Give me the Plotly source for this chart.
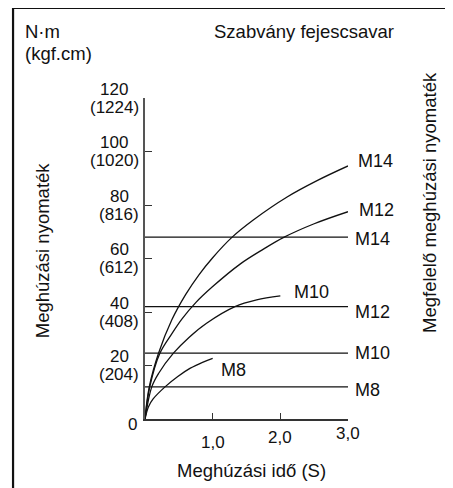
import plotly.graph_objects as go

# ---- data ----
y_ticks = [20, 40, 60, 80, 100, 120]
y_tick_nm = ["20", "40", "60", "80", "100", "120"]
y_tick_kgf = ["(204)", "(408)", "(612)", "(816)", "(1020)", "(1224)"]
x_ticks = [1, 2, 3]
x_tick_labels = ["1,0", "2,0", "3,0"]
x_tick_shift = [-23, -18, -14]

m14_t = [0, 0.064, 0.2, 0.395, 0.6, 0.8, 1.0, 1.284, 1.6, 2.1, 2.55, 3.0]
m14_v = [0, 12.1, 24.6, 37, 46.5, 54, 60.3, 67.9, 74.4, 83, 89.2, 94.6]
m12_t = [0, 0.07, 0.22, 0.4, 0.55, 0.75, 1.0, 1.41, 1.75, 2.05, 2.5, 3.0]
m12_v = [0, 12, 24.6, 32, 37.5, 43.5, 49.5, 58, 63.5, 67.9, 73, 77.5]
m10_t = [0, 0.1, 0.2, 0.42, 0.65, 0.91, 1.33, 1.65, 2.0]
m10_v = [0, 12, 17, 24.6, 30.5, 35.8, 42, 44.5, 46]
m8_t = [0, 0.05, 0.12, 0.3, 0.48, 0.67, 0.85, 1.0]
m8_v = [0, 4.5, 7.5, 12.1, 15.8, 19, 21.2, 22.7]

curve_names = ["M14", "M12", "M10", "M8"]
curve_t = [m14_t, m12_t, m10_t, m8_t]
curve_v = [m14_v, m12_v, m10_v, m8_v]
curve_label_dx = [8, 9, 12, 6]
curve_label_dy = [5, 2, 4, -12]

hline_names = ["M14", "M12", "M10", "M8"]
hline_vals = [68, 42, 24.6, 12]
hline_label_dy = [-2, -5, 0, -3]

FONT = "Liberation Sans, Arial, sans-serif"
FS = 18
TFS = 17

def text_w(s, fs):
    widths = {"(": 0.333, ")": 0.333}
    return sum(widths.get(c, 0.556) for c in s) * fs

fig = go.Figure()
for t, v in zip(curve_t, curve_v):
    fig.add_trace(go.Scatter(x=t, y=v, mode="lines", line=dict(color="#111", width=1.3, shape="spline"),
                             hoverinfo="skip", showlegend=False))
for v in hline_vals:
    fig.add_trace(go.Scatter(x=[0, 3], y=[v, v], mode="lines", line=dict(color="#111", width=1.3),
                             hoverinfo="skip", showlegend=False))

ann = []
for name, t, v, dx, dy in zip(curve_names, curve_t, curve_v, curve_label_dx, curve_label_dy):
    ann.append(dict(x=t[-1], y=v[-1], xref="x", yref="y", text=name, showarrow=False,
                    xanchor="left", yanchor="middle", xshift=dx, yshift=dy))
for name, v, dy in zip(hline_names, hline_vals, hline_label_dy):
    ann.append(dict(x=3, y=v, xref="x", yref="y", text=name, showarrow=False,
                    xanchor="left", yanchor="middle", xshift=5, yshift=dy))
for tv, a, b in zip(y_ticks, y_tick_nm, y_tick_kgf):
    cx = -6 - text_w(b, TFS) / 2
    ann.append(dict(x=0, y=tv, xref="x", yref="y", text=a, showarrow=False, font=dict(size=TFS),
                    xanchor="center", yanchor="middle", xshift=cx, yshift=9))
    ann.append(dict(x=0, y=tv, xref="x", yref="y", text=b, showarrow=False, font=dict(size=TFS),
                    xanchor="center", yanchor="middle", xshift=cx, yshift=-9))
ann.append(dict(x=0, y=0, xref="x", yref="y", text="0", showarrow=False, font=dict(size=TFS),
                xanchor="right", yanchor="middle", xshift=-6, yshift=-5))
for tv, lab, sh in zip(x_ticks, x_tick_labels, x_tick_shift):
    ann.append(dict(x=tv, y=0, xref="x", yref="y", text=lab, showarrow=False, font=dict(size=TFS),
                    xanchor="center", yanchor="middle", yshift=sh))
TF = dict(size=18.5)
ann += [
    dict(x=0.527, y=-0.159, xref="paper", yref="paper", text="Meghúzási idő (S)", showarrow=False, font=TF,
         xanchor="center", yanchor="middle"),
    dict(x=-0.507, y=0.526, xref="paper", yref="paper", text="Meghúzási nyomaték", textangle=-90,
         showarrow=False, font=TF, xanchor="center", yanchor="middle"),
    dict(x=1.404, y=0.673, xref="paper", yref="paper", text="Megfelelő meghúzási nyomaték", textangle=-90,
         showarrow=False, font=TF, xanchor="center", yanchor="middle"),
    dict(x=0.783, y=1.206, xref="paper", yref="paper", text="Szabvány fejescsavar", showarrow=False, font=TF,
         xanchor="center", yanchor="middle"),
    dict(x=-0.60, y=1.206, xref="paper", yref="paper", text="N·m", showarrow=False,
         xanchor="left", yanchor="middle", font=TF),
    dict(x=-0.60, y=1.140, xref="paper", yref="paper", text="(kgf.cm)", showarrow=False,
         xanchor="left", yanchor="middle", font=TF),
]

shapes = [
    dict(type="line", xref="paper", yref="paper", x0=-0.650, x1=1.55, y0=1.2805, y1=1.2805,
         line=dict(color="#111", width=2.2)),
    dict(type="line", xref="paper", yref="paper", x0=-0.650, x1=-0.650, y0=1.2805, y1=-0.25,
         line=dict(color="#111", width=2.2)),
]

fig.update_layout(
    width=445, height=480,
    margin=dict(l=137, r=105, t=90, b=69),
    paper_bgcolor="white", plot_bgcolor="white",
    font=dict(family=FONT, size=FS, color="#111"),
    annotations=ann, shapes=shapes,
    xaxis=dict(range=[0, 3], showgrid=False, zeroline=False, showline=True, linecolor="#333", linewidth=1.5,
               ticks="inside", tickvals=x_ticks, ticklen=6, tickwidth=1.3, tickcolor="#333",
               showticklabels=False, fixedrange=True),
    yaxis=dict(range=[0, 120], showgrid=False, zeroline=False, showline=True, linecolor="#555", linewidth=1.5,
               ticks="inside", tickvals=y_ticks, ticklen=7, tickwidth=1.3, tickcolor="#333",
               showticklabels=False, fixedrange=True),
)

fig.write_html("out.html")
